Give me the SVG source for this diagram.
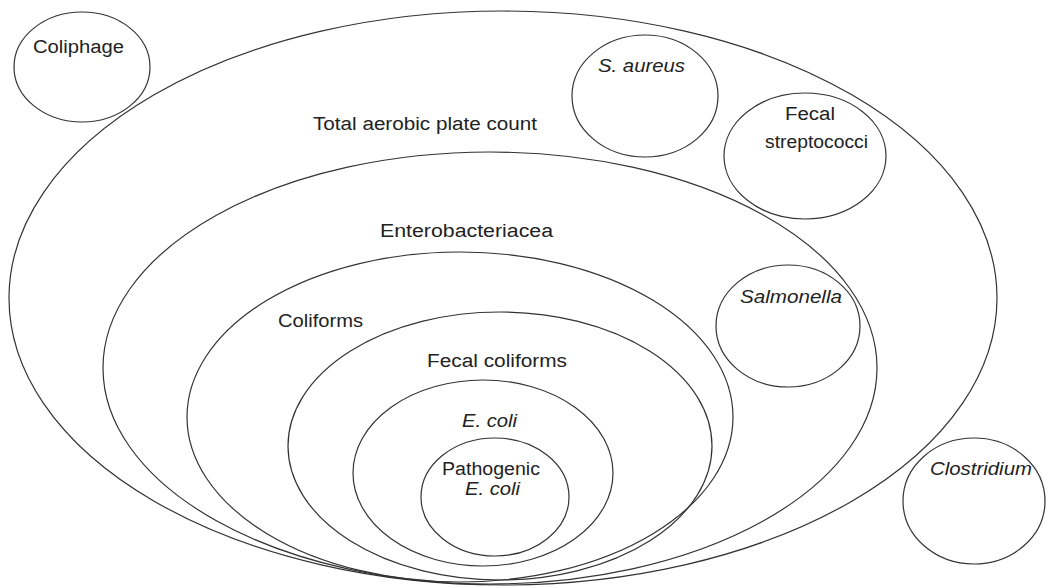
<svg xmlns="http://www.w3.org/2000/svg" width="1049" height="588" viewBox="0 0 1049 588">
<style>
.s{fill:none;stroke:#333;stroke-width:1.2}
text{font-family:"Liberation Sans",Arial,sans-serif;font-size:18px;fill:#222}
.i{font-style:italic}
</style>
<rect width="1049" height="588" fill="#fff"/>
<g id="total">
<ellipse class="s" cx="503" cy="298" rx="494" ry="287"/>
<text x="313" y="130" textLength="224" lengthAdjust="spacingAndGlyphs">Total aerobic plate count</text>
</g>
<g id="coliphage">
<ellipse class="s" cx="82" cy="67" rx="68" ry="55"/>
<text x="33" y="53" textLength="91" lengthAdjust="spacingAndGlyphs">Coliphage</text>
</g>
<g id="saureus">
<ellipse class="s" cx="645" cy="96" rx="73" ry="61"/>
<text class="i" x="598" y="72" textLength="87" lengthAdjust="spacingAndGlyphs">S. aureus</text>
</g>
<g id="fecalstrep">
<ellipse class="s" cx="805" cy="156" rx="81" ry="63"/>
<text x="785" y="120" textLength="50" lengthAdjust="spacingAndGlyphs">Fecal</text>
<text x="765" y="148" textLength="103" lengthAdjust="spacingAndGlyphs">streptococci</text>
</g>
<g id="entero">
<ellipse class="s" cx="490" cy="368" rx="387" ry="216"/>
<text x="380" y="237" textLength="173" lengthAdjust="spacingAndGlyphs">Enterobacteriacea</text>
</g>
<g id="salmonella">
<ellipse class="s" cx="788" cy="326" rx="72" ry="61"/>
<text class="i" x="740" y="303" textLength="102" lengthAdjust="spacingAndGlyphs">Salmonella</text>
</g>
<g id="clostridium">
<ellipse class="s" cx="974" cy="501" rx="71" ry="63"/>
<text class="i" x="930" y="475" textLength="102" lengthAdjust="spacingAndGlyphs">Clostridium</text>
</g>
<g id="coliforms">
<ellipse class="s" cx="460" cy="417" rx="273" ry="165"/>
<text x="278" y="327" textLength="85" lengthAdjust="spacingAndGlyphs">Coliforms</text>
</g>
<g id="fecalcoliforms">
<ellipse class="s" cx="500" cy="446" rx="212" ry="134"/>
<text x="427" y="367" textLength="140" lengthAdjust="spacingAndGlyphs">Fecal coliforms</text>
</g>
<g id="ecoli">
<ellipse class="s" cx="483" cy="473" rx="130" ry="93"/>
<text class="i" x="462" y="427" textLength="55" lengthAdjust="spacingAndGlyphs">E. coli</text>
</g>
<g id="pathogenic">
<ellipse class="s" cx="495" cy="497" rx="74" ry="59"/>
<text x="442" y="475" textLength="98" lengthAdjust="spacingAndGlyphs">Pathogenic</text>
<text class="i" x="465" y="495" textLength="55" lengthAdjust="spacingAndGlyphs">E. coli</text>
</g>
<g id="connectors"></g>
</svg>
